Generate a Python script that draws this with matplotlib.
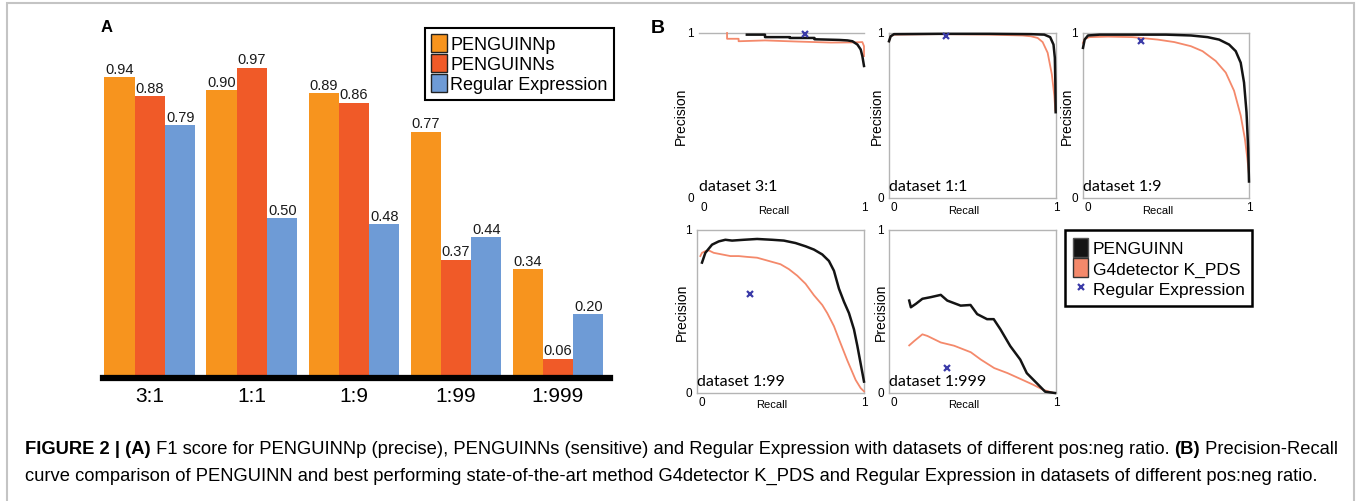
import numpy as np
import matplotlib
matplotlib.use("Agg")
import matplotlib.pyplot as plt
from matplotlib.patches import Patch, Rectangle
from matplotlib.lines import Line2D

# ---------------- data ----------------
ratios = ["3:1", "1:1", "1:9", "1:99", "1:999"]
f1_penguinn_p = [0.94, 0.90, 0.89, 0.77, 0.34]
f1_penguinn_s = [0.88, 0.97, 0.86, 0.37, 0.06]
f1_regex = [0.79, 0.50, 0.48, 0.44, 0.20]
bar_names = ["PENGUINNp", "PENGUINNs", "Regular Expression"]

pr_names = ["PENGUINN", "G4detector K_PDS", "Regular Expression"]
pr_titles = ["dataset 3:1", "dataset 1:1", "dataset 1:9", "dataset 1:99", "dataset 1:999"]

# dataset 3:1
pen_31_r = [0.29, 0.40, 0.40, 0.55, 0.55, 0.70, 0.70, 0.85, 0.90, 0.93, 0.96, 0.98, 0.99, 1.00]
pen_31_p = [0.99, 0.99, 0.975, 0.975, 0.97, 0.97, 0.962, 0.958, 0.955, 0.95, 0.93, 0.90, 0.86, 0.80]
g4_31_r = [0.17, 0.17, 0.24, 0.24, 0.40, 0.60, 0.80, 0.94, 0.99, 1.00, 1.00]
g4_31_p = [1.00, 0.965, 0.965, 0.95, 0.955, 0.948, 0.942, 0.943, 0.945, 0.92, 0.86]
re_31 = [0.64, 0.995]

# dataset 1:1
pen_11_r = [0.00, 0.01, 0.03, 0.30, 0.60, 0.85, 0.93, 0.965, 0.985, 0.993, 0.996, 0.998]
pen_11_p = [0.95, 0.98, 0.993, 0.995, 0.995, 0.993, 0.99, 0.975, 0.93, 0.85, 0.70, 0.52]
g4_11_r = [0.00, 0.01, 0.03, 0.30, 0.60, 0.80, 0.85, 0.89, 0.92, 0.95, 0.975, 0.99, 0.996]
g4_11_p = [0.95, 0.98, 0.99, 0.993, 0.99, 0.985, 0.98, 0.97, 0.945, 0.88, 0.75, 0.62, 0.53]
re_11 = [0.34, 0.98]

# dataset 1:9
pen_19_r = [0.00, 0.01, 0.03, 0.10, 0.30, 0.50, 0.65, 0.75, 0.82, 0.88, 0.92, 0.95, 0.97, 0.985, 0.995, 1.00]
pen_19_p = [0.91, 0.96, 0.985, 0.99, 0.99, 0.99, 0.985, 0.975, 0.96, 0.93, 0.89, 0.82, 0.70, 0.52, 0.30, 0.10]
g4_19_r = [0.00, 0.01, 0.04, 0.15, 0.30, 0.45, 0.55, 0.65, 0.72, 0.80, 0.86, 0.91, 0.95, 0.975, 0.99, 1.00]
g4_19_p = [0.94, 0.965, 0.975, 0.978, 0.975, 0.96, 0.945, 0.92, 0.89, 0.83, 0.76, 0.65, 0.50, 0.36, 0.24, 0.14]
re_19 = [0.35, 0.95]

# dataset 1:99
pen_199_r = [0.03, 0.05, 0.09, 0.13, 0.17, 0.21, 0.28, 0.36, 0.45, 0.52, 0.59, 0.65, 0.70, 0.75,
             0.79, 0.82, 0.85, 0.88, 0.91, 0.94, 0.96, 0.98, 1.00]
pen_199_p = [0.80, 0.86, 0.91, 0.93, 0.94, 0.935, 0.94, 0.945, 0.94, 0.935, 0.92, 0.90, 0.88, 0.85,
             0.81, 0.75, 0.64, 0.56, 0.49, 0.39, 0.29, 0.18, 0.07]
g4_199_r = [0.02, 0.03, 0.05, 0.07, 0.10, 0.15, 0.20, 0.25, 0.30, 0.36, 0.43, 0.50, 0.55, 0.60,
            0.65, 0.70, 0.75, 0.78, 0.82, 0.85, 0.90, 0.95, 0.98, 1.00]
g4_199_p = [0.84, 0.86, 0.87, 0.875, 0.86, 0.85, 0.84, 0.84, 0.835, 0.83, 0.81, 0.79, 0.76, 0.72,
            0.67, 0.60, 0.54, 0.49, 0.41, 0.33, 0.20, 0.08, 0.03, 0.01]
re_199 = [0.32, 0.61]

# dataset 1:999
pen_1999_r = [0.121, 0.131, 0.161, 0.20, 0.25, 0.31, 0.349, 0.429, 0.488, 0.528, 0.587, 0.627,
              0.667, 0.726, 0.786, 0.825, 0.885, 0.935, 0.994]
pen_1999_p = [0.567, 0.526, 0.547, 0.578, 0.588, 0.602, 0.567, 0.536, 0.54, 0.484, 0.453, 0.453,
              0.391, 0.288, 0.205, 0.122, 0.06, 0.008, 0.0]
g4_1999_r = [0.121, 0.151, 0.20, 0.23, 0.31, 0.39, 0.49, 0.55, 0.63, 0.71, 0.79, 0.865, 0.925, 0.98]
g4_1999_p = [0.292, 0.319, 0.36, 0.35, 0.31, 0.29, 0.25, 0.205, 0.153, 0.122, 0.085, 0.05, 0.019, 0.002]
re_1999 = [0.35, 0.155]

pen_curves = [(pen_31_r, pen_31_p), (pen_11_r, pen_11_p), (pen_19_r, pen_19_p),
              (pen_199_r, pen_199_p), (pen_1999_r, pen_1999_p)]
g4_curves = [(g4_31_r, g4_31_p), (g4_11_r, g4_11_p), (g4_19_r, g4_19_p),
             (g4_199_r, g4_199_p), (g4_1999_r, g4_1999_p)]
re_points = [re_31, re_11, re_19, re_199, re_1999]

caption_1 = [("FIGURE 2 | (A)", "bold"),
             (" F1 score for PENGUINNp (precise), PENGUINNs (sensitive) and Regular Expression "
              "with datasets of different pos:neg ratio. ", "normal"),
             ("(B)", "bold"),
             (" Precision-Recall", "normal")]
caption_2 = ("curve comparison of PENGUINN and best performing state-of-the-art method "
             "G4detector K_PDS and Regular Expression in datasets of different pos:neg ratio.")

# ---------------- style ----------------
C_ORANGE = "#F7941E"
C_RED = "#F05A28"
C_BLUE = "#6E9BD6"
C_BLACK = "#141414"
C_SALMON = "#F4896B"
C_REGEX = "#3B3BA8"
SANS = "Liberation Sans"
plt.rcParams["font.family"] = [SANS, "DejaVu Sans"]

W, H = 1360, 502
fig = plt.figure(figsize=(W / 100, H / 100), dpi=100)


def px_axes(l, t, r, b):
    return fig.add_axes([l / W, 1 - b / H, (r - l) / W, (b - t) / H])


# figure frame
fig.patches.append(Rectangle((7 / W, -0.05), (1354 - 7) / W, 1.05 - 4 / H, transform=fig.transFigure,
                             fill=False, edgecolor="#c4c4c4", lw=1.5))

# ---------------- panel A ----------------
axA = px_axes(103, 20, 610, 379)
x = np.arange(len(ratios))
w = 0.297
for i, (vals, col) in enumerate(zip([f1_penguinn_p, f1_penguinn_s, f1_regex], [C_ORANGE, C_RED, C_BLUE])):
    bars = axA.bar(x + (i - 1) * w, vals, w, color=col, edgecolor="none", zorder=2)
    axA.bar_label(bars, labels=[f"{v:.2f}" for v in vals], padding=1, fontsize=10.5, color="#1a1a1a")
axA.set_xlim(-0.46, 4.51)
axA.set_ylim(0, 1.122)
for s in axA.spines.values():
    s.set_visible(False)
axA.set_yticks([])
axA.set_xticks(x)
axA.set_xticklabels(ratios, fontsize=15)
axA.tick_params(axis="x", length=0, pad=6)
axA.axhline(0, color="black", lw=4.5, zorder=5, clip_on=False)
handlesA = [Patch(facecolor=c, edgecolor="#222222", lw=1) for c in [C_ORANGE, C_RED, C_BLUE]]
legA = axA.legend(handlesA, bar_names, loc="upper right", bbox_to_anchor=(614 / W, 1 - 29 / H),
                  bbox_transform=fig.transFigure, fancybox=False, edgecolor="black", framealpha=1,
                  fontsize=13, handlelength=0.85, handleheight=1.15, handletextpad=0.2,
                  labelspacing=0.05, borderpad=0.35, borderaxespad=0)
legA.get_frame().set_linewidth(1.5)
fig.text(107 / W, 1 - 28 / H, "A", fontsize=12, fontweight="bold", ha="center", va="center")

# ---------------- panel B ----------------
fig.text(658 / W, 1 - 29 / H, "B", fontsize=14, fontweight="bold", ha="center", va="center")
boxes = [(699, 34, 864, 199), (889, 34, 1056, 199), (1083, 34, 1249, 199),
         (697, 231, 864, 394), (889, 231, 1056, 394)]
prec_off = [-0.11, -0.07, -0.10, -0.09, -0.05]
for k, (l, t, r, b) in enumerate(boxes):
    ax = px_axes(l, t, r, b)
    pr, pp = pen_curves[k]
    gr, gp = g4_curves[k]
    ax.plot(gr, gp, color=C_SALMON, lw=1.3, clip_on=False, zorder=3)
    ax.plot(pr, pp, color=C_BLACK, lw=1.8, clip_on=False, zorder=4)
    ax.plot([re_points[k][0]], [re_points[k][1]], linestyle="none", marker="x", color=C_REGEX,
            ms=5, mew=1.6, clip_on=False, zorder=5)
    ax.set_xlim(0, 1)
    ax.set_ylim(0, 1)
    ax.set_xticks([])
    ax.set_yticks([])
    for s in ax.spines.values():
        s.set_color("#b4b4b4")
        s.set_linewidth(1.0)
    if k == 0:
        for side in ["left", "right", "bottom"]:
            ax.spines[side].set_visible(False)
    ax.text(-0.05, 1.0, "1", transform=ax.transAxes, ha="center", va="center", fontsize=8.5)
    ax.text(-0.05, 0.0, "0", transform=ax.transAxes, ha="center", va="center", fontsize=8.5)
    ax.text(0.03, -0.055, "0", transform=ax.transAxes, ha="center", va="center", fontsize=8.5)
    ax.text(1.0, -0.055, "1", transform=ax.transAxes, ha="center", va="center", fontsize=8.5)
    ax.text(0.45, -0.07, "Recall", transform=ax.transAxes, ha="center", va="center", fontsize=8)
    ax.text(prec_off[k], 0.5, "Precision", transform=ax.transAxes, ha="center", va="center",
            rotation=90, fontsize=10)
    ax.text(0.0, 0.05, pr_titles[k], transform=ax.transAxes, ha="left", va="baseline",
            fontsize=11.5, family=["Lato", "DejaVu Sans"])

handlesB = [Patch(facecolor=C_BLACK, edgecolor="#555555", lw=1),
            Patch(facecolor=C_SALMON, edgecolor="#333333", lw=1),
            Line2D([], [], linestyle="none", marker="x", color=C_REGEX, ms=5, mew=1.6)]
legB = fig.legend(handlesB, pr_names, loc="upper left", bbox_to_anchor=(1065 / W, 1 - 231 / H),
                  bbox_transform=fig.transFigure, fancybox=False, edgecolor="black", framealpha=1,
                  fontsize=12.5, handlelength=0.9, handleheight=1.3, handletextpad=0.25,
                  labelspacing=0.1, borderpad=0.45, borderaxespad=0)
legB.get_frame().set_linewidth(1.8)

# ---------------- caption ----------------
capax = fig.add_axes([0, 0, 1, 1])
capax.axis("off")
CAP_FS = 13.2
t = capax.text(25 / W, 1 - 450 / H, caption_1[0][0], fontweight=caption_1[0][1], fontsize=CAP_FS,
               ha="left", va="center", transform=capax.transAxes)
for s, wgt in caption_1[1:]:
    t = capax.annotate(s, xy=(1, 0), xycoords=t, ha="left", va="bottom", fontsize=CAP_FS, fontweight=wgt)
capax.text(25 / W, 1 - 476 / H, caption_2, fontsize=CAP_FS, ha="left", va="center",
           transform=capax.transAxes)

fig.savefig("out.png", dpi=100)
